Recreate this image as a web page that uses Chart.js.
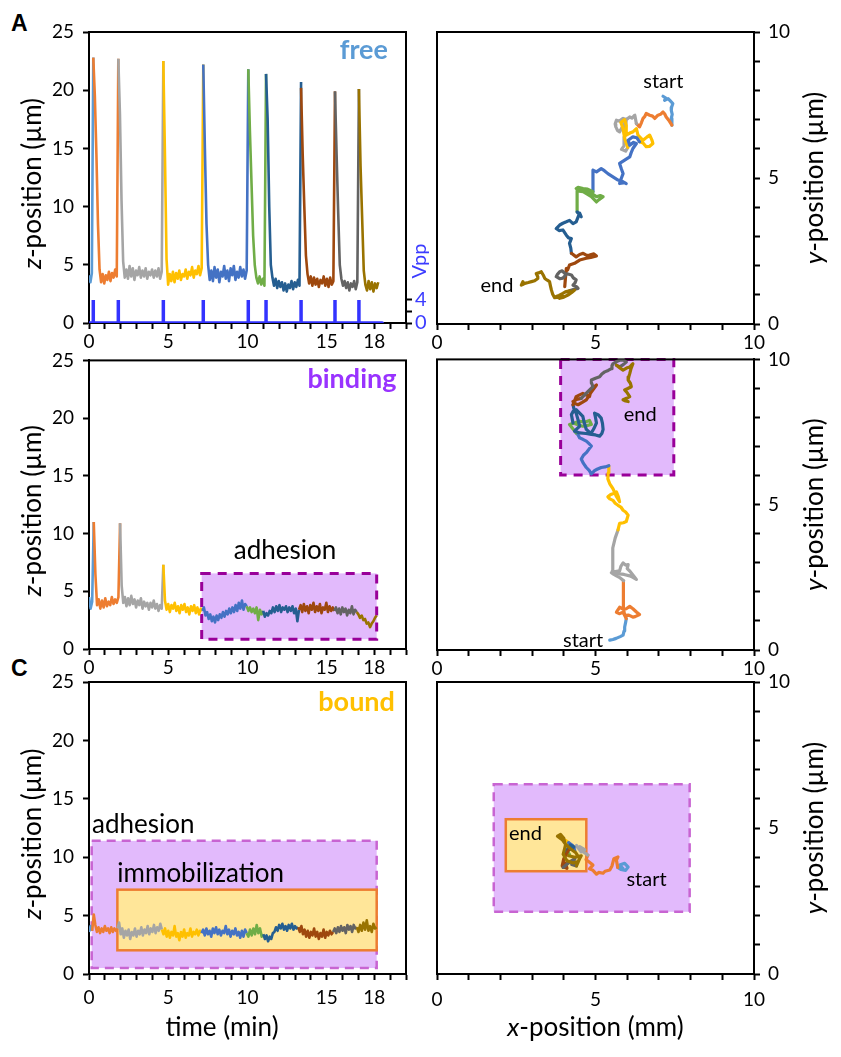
<!DOCTYPE html>
<html>
<head>
<meta charset="utf-8">
<script src="https://cdn.jsdelivr.net/npm/chart.js@4.4.1/dist/chart.umd.min.js"></script>
<style>
  body { margin: 0; background: #fff; width: 841px; height: 1057px; position: relative; overflow: hidden; }
  canvas { position: absolute; }
  .tag { position: absolute; font-family: "Liberation Sans", Arial, sans-serif; font-weight: bold; font-size: 23px; line-height: 23px; }
</style>
</head>
<body>
<div class="tag" style="left:11px;top:12px">A</div>
<div class="tag" style="left:11px;top:657px">C</div>
<canvas id="zFree" width="440" height="360" style="left:0;top:0"></canvas>
<canvas id="zBind" width="440" height="350" style="left:0;top:340px"></canvas>
<canvas id="zBound" width="440" height="397" style="left:0;top:660px"></canvas>
<canvas id="xyFree" width="421" height="360" style="left:420px;top:0"></canvas>
<canvas id="xyBind" width="421" height="350" style="left:420px;top:340px"></canvas>
<canvas id="xyBound" width="421" height="397" style="left:420px;top:660px"></canvas>
<script>
// segment colours, one per recording interval
const segColors = ['#5B9BD5', '#ED7D31', '#A5A5A5', '#FFC000', '#4472C4', '#70AD47', '#255E91', '#9E480E', '#636363', '#997300'];

// ---- z-position traces (min, um). Each segment is sampled evenly between two break times
const freeBreaks = [0, 0.27, 1.85, 4.69, 7.21, 10.05, 11.17, 13.38, 15.52, 17.03, 18.25];
const freeZ = [
  [4.1, 3.5, 4.3, 22.8],
  [22.8, 19.5, 14.5, 8.5, 4.6, 3.5, 4.2, 3.4, 4.1, 3.7, 4.4, 3.6, 4.3, 3.9, 4.6, 4.0, 22.7],
  [22.7, 18.0, 10.5, 5.3, 3.9, 4.6, 3.8, 4.9, 4.0, 4.7, 3.7, 4.5, 4.1, 4.8, 3.9, 4.5, 4.0, 4.7, 3.8, 4.4, 4.1, 4.6, 3.9, 4.5, 4.0, 4.7, 3.8, 4.4, 22.5],
  [22.5, 14.5, 5.5, 3.3, 4.2, 3.6, 4.4, 3.5, 4.3, 3.8, 4.5, 3.7, 4.2, 4.0, 4.6, 3.8, 4.4, 4.1, 4.8, 3.9, 4.5, 4.2, 4.9, 4.1, 4.7, 22.2],
  [22.2, 15.0, 8.5, 5.0, 3.7, 4.5, 3.6, 4.8, 3.9, 4.6, 3.5, 4.4, 4.0, 4.9, 3.8, 4.5, 3.6, 4.7, 4.1, 4.9, 3.7, 4.4, 3.9, 4.8, 4.0, 4.6, 3.8, 4.5, 21.8],
  [21.8, 16.5, 12.0, 7.5, 5.0, 3.9, 3.4, 4.0, 3.3, 3.8, 3.2, 21.4],
  [21.4, 17.5, 10.0, 5.0, 3.9, 3.2, 3.8, 3.0, 3.6, 3.1, 3.5, 2.8, 3.4, 2.7, 3.3, 3.0, 3.6, 2.9, 3.5, 3.1, 3.7, 3.2, 20.7],
  [20.2, 14.5, 10.0, 5.8, 4.2, 3.4, 4.0, 3.2, 3.9, 3.3, 3.8, 3.1, 3.7, 3.4, 4.0, 3.2, 3.8, 3.1, 3.9, 3.3, 3.6, 19.9],
  [19.9, 14.5, 9.5, 5.0, 3.8, 3.2, 3.6, 3.0, 3.5, 2.8, 3.4, 3.1, 3.6, 2.9, 3.5, 20.1],
  [20.1, 13.5, 9.0, 4.5, 3.3, 2.8, 3.6, 2.9, 3.5, 2.7, 3.4, 3.0, 3.5]
];
const vppPulses = [0.27, 1.85, 4.69, 7.21, 10.05, 11.17, 13.38, 15.52, 17.03];
const vppHigh = 4;
const vppEnd = 18.5;

const bindBreaks = [0, 0.3, 1.96, 4.69, 7.15, 9.95, 10.99, 13.25, 15.48, 16.89, 18.15];
const bindZ = [
  [4.5, 3.5, 4.1, 11.0],
  [11.0, 6.5, 3.8, 4.3, 3.5, 4.2, 3.6, 4.4, 3.7, 4.1, 3.8, 4.5, 3.9, 4.3, 4.0, 4.5, 10.9],
  [10.9, 5.5, 4.0, 4.5, 3.7, 4.4, 3.8, 4.6, 3.9, 4.3, 3.6, 4.2, 3.8, 4.4, 3.5, 4.1, 3.7, 4.0, 3.4, 4.0, 3.6, 4.2, 3.5, 3.9, 3.3, 3.8, 3.5, 7.3],
  [7.3, 4.2, 3.4, 3.9, 3.2, 3.8, 3.5, 4.0, 3.3, 3.7, 3.1, 3.8, 3.4, 3.9, 3.2, 3.6, 3.0, 3.7, 3.3, 3.8, 3.1, 3.6, 3.0, 3.5, 3.3],
  [3.3, 3.6, 2.9, 3.2, 2.6, 3.0, 2.4, 2.8, 2.3, 2.9, 2.5, 3.0, 2.7, 3.2, 2.8, 3.3, 3.0, 3.5, 3.1, 3.6, 3.2, 3.8, 3.3, 4.0, 3.5, 4.2, 3.4, 3.9, 3.7],
  [3.7, 3.3, 3.6, 3.2, 3.5, 3.1, 3.6, 2.5, 3.4, 3.0, 3.3],
  [3.3, 2.8, 3.1, 2.9, 3.3, 3.1, 3.6, 3.2, 3.7, 3.3, 3.8, 3.2, 3.6, 3.4, 3.7, 3.2, 3.6, 3.3, 3.7, 3.1, 3.5, 2.4, 3.4],
  [3.4, 3.8, 3.2, 3.9, 3.3, 3.7, 3.1, 3.8, 3.4, 4.0, 3.2, 3.7, 3.3, 3.9, 3.1, 3.6, 3.4, 4.0, 3.2, 3.7, 3.3, 3.6, 3.3],
  [3.3, 3.6, 3.1, 3.5, 3.0, 3.6, 3.2, 3.5, 2.9, 3.4, 3.1, 3.7, 3.0, 3.4, 3.2],
  [3.2, 3.0, 2.7, 2.9, 2.5, 2.6, 2.2, 2.3, 1.9, 2.2, 2.4, 2.7, 2.9]
];

const boundBreaks = [0, 0.2, 1.8, 4.6, 7.1, 9.95, 11.0, 13.2, 15.4, 16.9, 18.15];
const boundZ = [
  [3.6, 4.1, 3.7],
  [3.7, 5.1, 4.2, 3.6, 4.0, 3.5, 3.9, 3.6, 4.1, 3.7, 3.9, 3.5, 4.0, 3.6, 3.9, 3.7, 3.9],
  [3.9, 4.4, 3.4, 3.9, 3.1, 3.7, 3.3, 3.8, 3.0, 3.6, 3.3, 3.9, 3.2, 3.7, 3.4, 4.0, 3.3, 3.8, 3.5, 4.1, 3.4, 3.9, 3.6, 4.2, 3.5, 4.0, 3.7, 4.3, 3.8],
  [3.8, 3.4, 3.9, 3.2, 3.7, 3.1, 3.6, 3.3, 4.1, 3.2, 3.5, 2.9, 3.6, 3.2, 3.8, 3.1, 3.5, 3.3, 3.9, 3.2, 3.6, 3.4, 3.8, 3.3, 3.7, 3.5],
  [3.5, 3.8, 3.3, 3.9, 3.4, 3.7, 3.2, 3.9, 3.5, 4.0, 3.4, 3.8, 3.3, 3.7, 3.5, 4.1, 3.4, 3.8, 3.2, 3.7, 3.4, 3.9, 3.3, 3.6, 3.1, 3.7, 3.2, 3.8, 3.5],
  [3.5, 3.2, 3.8, 3.3, 3.9, 3.4, 4.2, 3.5, 3.9, 3.2, 3.4],
  [3.4, 3.0, 3.3, 2.8, 3.2, 3.0, 3.5, 3.6, 4.0, 3.7, 4.2, 3.9, 4.3, 3.8, 4.1, 3.7, 4.2, 3.9, 4.3, 3.8, 4.1, 3.9, 4.0],
  [4.0, 3.6, 4.1, 3.4, 3.8, 3.2, 3.7, 3.1, 3.6, 3.3, 3.9, 3.2, 3.6, 3.0, 3.5, 3.2, 3.8, 3.1, 3.6, 3.3, 3.7, 3.4, 3.6],
  [3.6, 3.9, 3.5, 4.0, 3.6, 4.1, 3.7, 4.0, 3.5, 4.2, 3.8, 4.1, 3.6, 4.2, 3.9, 4.0],
  [4.0, 3.6, 4.2, 3.7, 4.4, 3.8, 4.6, 3.7, 4.1, 3.6, 4.3, 3.9, 4.0]
];

// ---- x/y trajectories, [x, y] per point
const freeTrack = [
  [[7.13,7.80],[7.22,7.74],[7.18,7.66],[7.29,7.72],[7.36,7.64],[7.44,7.55],[7.40,7.42],[7.39,7.32],[7.42,7.18],[7.39,7.04],[7.41,6.81]],
  [[7.41,6.81],[7.33,6.95],[7.23,7.09],[7.18,7.20],[7.13,7.26],[7.05,7.18],[6.97,7.15],[6.87,7.04],[6.80,7.12],[6.71,7.15],[6.60,7.21],[6.55,7.10],[6.50,7.04],[6.45,6.90],[6.39,6.75],[6.33,6.82],[6.29,6.86]],
  [[6.29,6.86],[6.24,7.15],[6.15,7.05],[6.08,7.09],[5.97,7.00],[5.87,7.04],[5.75,6.95],[5.66,6.98],[5.62,6.85],[5.64,6.75],[5.70,6.62],[5.76,6.58],[5.85,6.75],[5.97,6.98],[5.92,6.40],[5.90,6.10],[5.82,5.98],[5.95,5.92],[6.02,6.05]],
  [[6.02,6.05],[5.92,6.35],[5.87,6.69],[5.80,6.90],[5.92,7.00],[5.97,6.80],[5.97,6.47],[6.10,6.55],[6.18,6.58],[6.29,6.69],[6.34,6.47],[6.50,6.29],[6.62,6.40],[6.71,6.47],[6.78,6.30],[6.81,6.18],[6.70,6.08],[6.60,6.07],[6.50,6.20],[6.39,6.24]],
  [[6.39,6.24],[6.30,6.38],[6.18,6.41],[6.03,6.29],[6.08,6.12],[6.20,6.22],[6.29,6.18],[6.18,6.01],[6.12,5.85],[6.08,5.72],[5.92,5.61],[5.76,5.50],[5.82,5.30],[5.87,5.15],[5.80,4.95],[5.76,4.81],[5.92,4.84],[5.97,4.81],[5.82,4.90],[5.71,4.93],[5.55,5.04],[5.39,5.15],[5.28,5.25],[5.18,5.32],[5.03,5.21],[4.92,5.27],[4.92,4.90],[4.92,4.53]],
  [[4.92,4.53],[4.75,4.62],[4.61,4.64],[4.45,4.68],[4.39,4.64],[4.55,4.60],[4.71,4.58],[4.87,4.47],[5.03,4.36],[5.15,4.40],[5.24,4.36],[5.10,4.25],[5.03,4.18],[4.87,4.36],[4.61,4.53],[4.42,4.56],[4.42,4.20],[4.42,3.84]],
  [[4.42,3.84],[4.55,3.67],[4.50,3.80],[4.39,3.50],[4.29,3.44],[4.18,3.55],[4.08,3.50],[3.97,3.45],[3.87,3.39],[3.76,3.27],[3.85,3.20],[3.97,3.22],[4.08,3.04],[4.15,2.95],[4.24,2.93],[4.18,2.76],[4.22,2.60],[4.24,2.42]],
  [[4.24,2.42],[4.39,2.30],[4.50,2.38],[4.61,2.42],[4.72,2.35],[4.81,2.36],[4.95,2.40],[5.03,2.33],[4.85,2.28],[4.71,2.25],[4.50,2.19],[4.40,2.12],[4.34,2.08],[4.18,2.02],[4.12,1.85],[4.08,1.90],[4.05,1.55],[4.03,1.28],[4.06,1.70]],
  [[4.06,1.70],[3.95,1.82],[3.87,1.79],[3.80,1.70],[3.76,1.62],[3.88,1.55],[3.97,1.57],[4.10,1.72],[4.24,1.68],[4.30,1.58],[4.39,1.51],[4.35,1.40],[4.29,1.33],[4.40,1.28],[4.45,1.22],[4.30,1.18],[4.18,1.14]],
  [[4.18,1.14],[4.05,1.10],[3.97,1.05],[3.85,0.98],[3.76,0.94],[3.87,0.88],[4.00,0.92],[4.13,0.99],[4.25,1.08],[4.34,1.16],[4.20,1.05],[4.05,0.95],[3.85,0.92],[3.71,0.90],[3.65,1.02],[3.61,1.16],[3.58,1.30],[3.55,1.45],[3.48,1.50],[3.40,1.56],[3.35,1.68],[3.29,1.79],[3.20,1.75],[3.13,1.73],[3.18,1.62],[3.18,1.56],[3.08,1.48],[2.98,1.45],[2.88,1.42],[2.77,1.39],[2.70,1.35],[2.66,1.33],[2.71,1.45]]
];
const bindTrack = [
  [[5.45,0.34],[5.55,0.36],[5.65,0.40],[5.78,0.46],[5.87,0.51],[5.90,0.65],[5.92,0.79],[5.95,0.95],[5.97,1.08]],
  [[5.97,1.08],[5.87,1.30],[5.75,1.25],[5.66,1.30],[5.76,1.47],[5.88,1.40],[5.97,1.42],[6.08,1.50],[6.18,1.42],[6.30,1.30],[6.39,1.22],[6.25,1.15],[6.18,1.13],[6.05,1.20],[5.92,1.19],[5.88,1.45],[5.87,1.70],[5.88,2.05],[5.89,2.38]],
  [[5.89,2.38],[5.78,2.48],[5.66,2.55],[5.58,2.60],[5.50,2.66],[5.62,2.70],[5.76,2.72],[5.80,2.88],[5.87,3.00],[5.95,2.92],[6.03,2.94],[6.00,2.80],[6.08,2.72],[6.18,2.58],[6.29,2.43],[6.18,2.50],[6.08,2.55],[5.90,2.60],[5.76,2.62],[5.62,2.68],[5.53,2.72],[5.54,3.10],[5.55,3.51],[5.62,3.85],[5.71,4.13]],
  [[5.71,4.13],[5.76,4.36],[5.88,4.38],[5.97,4.42],[6.03,4.64],[5.95,4.75],[5.87,4.81],[5.80,4.92],[5.71,4.98],[5.62,5.05],[5.55,5.15],[5.45,5.20],[5.39,5.27],[5.48,5.35],[5.55,5.38],[5.66,5.44],[5.72,5.28],[5.76,5.10],[5.65,5.30],[5.55,5.55],[5.45,5.72],[5.39,5.89],[5.40,6.10],[5.42,6.34]],
  [[5.42,6.34],[5.30,6.30],[5.18,6.28],[5.05,6.22],[4.97,6.17],[4.87,6.06],[4.80,6.18],[4.71,6.28],[4.62,6.42],[4.55,6.57],[4.62,6.70],[4.71,6.79],[4.80,6.92],[4.87,7.02],[4.78,7.12],[4.71,7.19],[4.60,7.25],[4.50,7.30],[4.45,7.40],[4.39,7.47]],
  [[4.39,7.47],[4.18,7.76],[4.30,7.80],[4.50,7.87],[4.65,7.84],[4.81,7.90],[4.87,7.76],[4.72,7.72],[4.60,7.70],[4.45,7.75],[4.29,7.81]],
  [[4.29,7.81],[4.24,8.10],[4.30,8.22],[4.39,8.27],[4.50,8.15],[4.60,8.04],[4.65,7.80],[4.71,7.59],[4.80,7.50],[4.87,7.47],[4.95,7.62],[5.03,7.81],[5.00,8.00],[4.97,8.15],[5.08,8.10],[5.18,7.98],[5.22,7.80],[5.24,7.59],[5.20,7.45],[5.13,7.36],[5.00,7.40],[4.87,7.42],[4.70,7.45],[4.50,7.47],[4.34,7.53],[4.42,7.62],[4.50,7.70],[4.45,7.92],[4.39,8.15],[4.32,8.30],[4.29,8.44]],
  [[4.29,8.44],[4.35,8.60],[4.39,8.72],[4.50,8.78],[4.60,8.83],[4.70,8.78],[4.81,8.72],[4.84,8.85],[4.87,8.95],[4.95,9.05],[5.03,9.12],[4.85,8.85],[4.71,8.61],[4.58,8.52],[4.45,8.44],[4.35,8.48],[4.29,8.55],[4.40,8.62],[4.55,8.66]],
  [[4.55,8.66],[4.75,8.88],[4.92,9.06],[4.88,9.18],[4.87,9.29],[5.00,9.35],[5.13,9.40],[5.20,9.50],[5.29,9.57],[5.40,9.62],[5.50,9.68],[5.52,9.78],[5.55,9.85],[5.65,9.92],[5.76,9.97],[5.88,9.98],[5.97,9.91],[5.85,9.80],[5.76,9.74],[5.66,9.80]],
  [[5.66,9.80],[5.78,9.70],[5.87,9.63],[5.98,9.70],[6.08,9.74],[6.13,9.80],[6.18,9.85],[6.12,9.68],[6.08,9.51],[6.05,9.40],[6.03,9.29],[6.10,9.18],[6.13,9.06],[6.02,9.00],[5.92,8.95],[6.00,8.85],[6.08,8.72],[5.98,8.66],[5.87,8.61],[5.95,8.57],[6.03,8.55]]
];
const boundTrack = [
  [[5.87,3.61],[5.76,3.73],[5.92,3.79],[6.03,3.66],[5.95,3.55],[5.80,3.58],[5.70,3.65]],
  [[5.70,3.65],[5.66,3.90],[5.71,4.01],[5.58,3.95],[5.52,3.70],[5.45,3.56],[5.30,3.52],[5.24,3.45],[5.10,3.48],[5.03,3.42],[4.92,3.55],[4.81,3.60],[4.92,3.73],[4.78,3.85],[4.70,3.92],[4.76,4.07]],
  [[4.76,4.07],[4.62,4.18],[4.50,4.36],[4.66,4.26],[4.55,4.18],[4.40,4.40],[4.30,4.26]],
  [[4.30,4.26],[4.10,4.45],[4.05,4.58],[4.15,4.50]],
  [[4.15,4.50],[4.28,4.40],[4.35,4.22],[4.22,4.30]],
  [[4.22,4.30],[4.10,4.20],[4.18,4.10],[4.05,4.15]],
  [[4.05,4.15],[4.20,4.42],[4.32,4.35],[4.15,4.25]],
  [[4.15,4.25],[4.00,3.95],[3.95,3.70],[4.10,3.62],[4.05,3.80],[3.98,3.65]],
  [[3.98,3.65],[4.20,3.85],[4.35,3.95],[4.25,3.75],[4.40,3.70]],
  [[4.40,3.70],[4.50,3.95],[4.38,4.15],[4.20,4.30],[4.05,4.45],[3.95,4.60],[3.80,4.72],[3.90,4.78],[4.00,4.65],[4.05,4.40],[3.98,4.10],[4.10,3.88],[4.30,3.80],[4.45,3.85],[4.55,4.05],[4.35,4.00],[4.15,4.05]]
];

const timeLabels = [0, 5, 10, 15, 18];
const posLabels = [0, 5, 10];
const vppLabels = [0, 4];

const FONT = 'Lato';
const PURPLE_FILL = '#E2BAFC';
const YELLOW_FILL = '#FFE699';

// draws boxes, frame, notes and axis titles
const marks = {
  id: 'marks',
  beforeDatasetsDraw(chart, args, opts) {
    const { ctx, chartArea: a, scales: { x, y } } = chart;
    ctx.save();
    (opts.boxes || []).forEach(b => {
      const l = x.getPixelForValue(b.x0), r = x.getPixelForValue(b.x1);
      const t = y.getPixelForValue(b.y1), bt = y.getPixelForValue(b.y0);
      ctx.fillStyle = b.fill;
      ctx.fillRect(l, t, r - l, bt - t);
      ctx.strokeStyle = b.stroke;
      ctx.lineWidth = b.width;
      ctx.setLineDash(b.dash || []);
      ctx.strokeRect(l, t, r - l, bt - t);
    });
    ctx.setLineDash([]);
    ctx.strokeStyle = '#000';
    ctx.lineWidth = 2;
    ctx.strokeRect(a.left, a.top, a.right - a.left, a.bottom - a.top);
    ctx.restore();
  },
  afterDatasetsDraw(chart, args, opts) {
    const { ctx, chartArea: a, scales } = chart;
    ctx.save();
    ctx.textBaseline = 'middle';
    (opts.notes || []).forEach(n => {
      ctx.font = n.font;
      ctx.fillStyle = n.color || '#000';
      ctx.textAlign = n.align || 'center';
      ctx.fillText(n.text, scales.x.getPixelForValue(n.x), scales.y.getPixelForValue(n.y));
    });
    (opts.titles || []).forEach(t => {
      const size = t.size || 26;
      const cx = t.x === 'mid' ? (a.left + a.right) / 2 : t.x;
      const cy = t.y === 'mid' ? (a.top + a.bottom) / 2 + (t.dy || 0) : t.y;
      const widths = t.parts.map(p => { ctx.font = `${p[1]} ${size}px ${FONT}`; return ctx.measureText(p[0]).width; });
      const total = widths.reduce((s, w) => s + w, 0);
      ctx.save();
      ctx.translate(cx, cy);
      if (t.rot) ctx.rotate(-Math.PI / 2);
      ctx.fillStyle = t.color || '#000';
      ctx.textAlign = 'left';
      let pos = -total / 2;
      t.parts.forEach((p, i) => {
        ctx.font = `${p[1]} ${size}px ${FONT}`;
        ctx.fillText(p[0], pos, 0);
        pos += widths[i];
      });
      ctx.restore();
    });
    ctx.restore();
  }
};

function traceSets(breaks, zs) {
  return zs.map((vals, i) => {
    const t0 = breaks[i], t1 = breaks[i + 1], n = vals.length;
    return {
      data: vals.map((z, k) => ({ x: t0 + (t1 - t0) * k / (n - 1), y: z })),
      borderColor: segColors[i], borderWidth: 2.6, showLine: true, pointRadius: 0,
      borderJoinStyle: 'round', order: zs.length - i + 1
    };
  });
}

function trackSets(track) {
  return track.map((pts, i) => ({
    data: pts.map(p => ({ x: p[0], y: p[1] })),
    borderColor: segColors[i], borderWidth: 3.2, showLine: true, pointRadius: 0,
    borderJoinStyle: 'round', borderCapStyle: 'round', order: track.length - i + 1
  }));
}

function tickStyle(labels, pad) {
  return {
    stepSize: 1, autoSkip: false, maxRotation: 0, padding: pad,
    color: '#000', font: { family: FONT, size: 19 },
    callback: v => labels.includes(v) ? v : ''
  };
}
const gridStyle = { drawOnChartArea: false, tickLength: 6, tickColor: '#000', tickWidth: 2 };
const borderStyle = { color: '#000', width: 2 };

function zChart(id, sets, opt) {
  const scales = {
    x: {
      type: 'linear', min: 0, max: 20, grid: gridStyle, border: borderStyle,
      ticks: tickStyle(timeLabels, opt.xPad),
      afterFit: s => { s.height = opt.xHeight; }
    },
    y: {
      type: 'linear', position: 'left', min: 0, max: 25, grid: gridStyle, border: borderStyle,
      ticks: { stepSize: 5, padding: 9, color: '#000', font: { family: FONT, size: 19 } },
      afterFit: s => { s.width = 89; }
    }
  };
  if (opt.vpp) {
    scales.v = {
      type: 'linear', position: 'right', min: 0, max: 50.6, grid: gridStyle, border: borderStyle,
      afterBuildTicks: s => { s.ticks = [0, 2, 4].map(v => ({ value: v })); },
      ticks: { padding: 3, color: '#3C3CFF', font: { family: FONT, size: 20 }, callback: v => vppLabels.includes(v) ? v : '' },
      afterFit: s => { s.width = 34; }
    };
  }
  return new Chart(document.getElementById(id), {
    type: 'scatter',
    data: { datasets: sets },
    options: {
      responsive: false, animation: false,
      layout: { padding: { top: opt.top, right: opt.vpp ? 0 : 34, left: 0, bottom: 0 } },
      scales,
      plugins: {
        legend: { display: false }, tooltip: { enabled: false },
        marks: { boxes: opt.boxes, notes: opt.notes, titles: opt.titles }
      }
    },
    plugins: [marks]
  });
}

function xyChart(id, track, opt) {
  return new Chart(document.getElementById(id), {
    type: 'scatter',
    data: { datasets: trackSets(track) },
    options: {
      responsive: false, animation: false,
      layout: { padding: { top: opt.top, left: 17, right: 0, bottom: 0 } },
      scales: {
        x: {
          type: 'linear', min: 0, max: 10, grid: gridStyle, border: borderStyle,
          ticks: tickStyle(posLabels, opt.xPad),
          afterFit: s => { s.height = opt.xHeight; }
        },
        y: {
          type: 'linear', position: 'right', min: 0, max: 10, grid: gridStyle, border: borderStyle,
          ticks: tickStyle(posLabels, 8),
          afterFit: s => { s.width = 87; }
        }
      },
      plugins: {
        legend: { display: false }, tooltip: { enabled: false },
        marks: { boxes: opt.boxes, notes: opt.notes, titles: opt.titles }
      }
    },
    plugins: [marks]
  });
}

const zTitle = { parts: [['z', 'italic'], ['-position (\u00b5m)', 'normal']], x: 33, y: 'mid', dy: 6, rot: true };
const yTitle = { parts: [['y', 'italic'], ['-position (\u00b5m)', 'normal']], x: 395, y: 'mid', rot: true };
const small = `20px ${FONT}`;
const big = `26px ${FONT}`;
const heavy = `bold 27px ${FONT}`;

// Vpp trace built from the pulse times
const vppData = [{ x: 0, y: 0 }];
vppPulses.forEach(t => { vppData.push({ x: t, y: 0 }, { x: t, y: vppHigh }, { x: t, y: 0 }); });
vppData.push({ x: vppEnd, y: 0 });

zChart('zFree', traceSets(freeBreaks, freeZ).concat([{
  data: vppData, yAxisID: 'v', borderColor: '#3333FF', borderWidth: 3.5, showLine: true,
  pointRadius: 0, borderCapStyle: 'round', order: 1
}]), {
  vpp: true, top: 32, xHeight: 37, xPad: 1,
  notes: [{ text: 'free', x: 18.86, y: 23.45, align: 'right', font: heavy, color: '#5B9BD5' }],
  titles: [zTitle, { parts: [['Vpp', 'normal']], x: 420, y: 261, rot: true, size: 20, color: '#3C3CFF' }]
});

zChart('zBind', traceSets(bindBreaks, bindZ), {
  top: 17, xHeight: 41, xPad: 1,
  boxes: [{ x0: 7.11, x1: 18.15, y0: 0.85, y1: 6.55, fill: PURPLE_FILL, stroke: '#990099', width: 3, dash: [9, 7] }],
  notes: [
    { text: 'binding', x: 19.4, y: 23.4, align: 'right', font: heavy, color: '#9933FF' },
    { text: 'adhesion', x: 12.37, y: 8.5, font: big }
  ],
  titles: [zTitle]
});

zChart('zBound', traceSets(boundBreaks, boundZ), {
  top: 22, xHeight: 83, xPad: 6,
  boxes: [
    { x0: 0.17, x1: 18.15, y0: 0.51, y1: 11.4, fill: PURPLE_FILL, stroke: '#C864D2', width: 2.5, dash: [9, 6] },
    { x0: 1.79, x1: 18.15, y0: 2.03, y1: 7.22, fill: YELLOW_FILL, stroke: '#ED7D31', width: 2.5 }
  ],
  notes: [
    { text: 'bound', x: 19.3, y: 23.3, align: 'right', font: heavy, color: '#FFC000' },
    { text: 'adhesion', x: 0.19, y: 12.8, align: 'left', font: big },
    { text: 'immobilization', x: 1.79, y: 8.56, align: 'left', font: big }
  ],
  titles: [zTitle, { parts: [['time (min)', 'normal']], x: 222, y: 368 }]
});

xyChart('xyFree', freeTrack, {
  top: 32, xHeight: 36, xPad: 1,
  notes: [
    { text: 'start', x: 7.14, y: 8.29, font: small },
    { text: 'end', x: 1.89, y: 1.33, font: small }
  ],
  titles: [yTitle]
});

xyChart('xyBind', bindTrack, {
  top: 16, xHeight: 40, xPad: 1,
  boxes: [{ x0: 3.90, x1: 7.47, y0: 6.02, y1: 10, fill: PURPLE_FILL, stroke: '#990099', width: 3, dash: [9, 7] }],
  notes: [
    { text: 'end', x: 6.41, y: 8.10, font: small },
    { text: 'start', x: 4.61, y: 0.34, font: small }
  ],
  titles: [yTitle]
});

xyChart('xyBound', boundTrack, {
  top: 22, xHeight: 83, xPad: 8,
  boxes: [
    { x0: 1.79, x1: 7.97, y0: 2.13, y1: 6.50, fill: PURPLE_FILL, stroke: '#C864D2', width: 2.5, dash: [9, 6] },
    { x0: 2.17, x1: 4.71, y0: 3.52, y1: 5.30, fill: YELLOW_FILL, stroke: '#ED7D31', width: 2.5 }
  ],
  notes: [
    { text: 'end', x: 2.27, y: 4.81, align: 'left', font: small },
    { text: 'start', x: 6.61, y: 3.22, font: small }
  ],
  titles: [yTitle, { parts: [['x', 'italic'], ['-position (mm)', 'normal']], x: 'mid', y: 368 }]
});
</script>
</body>
</html>
